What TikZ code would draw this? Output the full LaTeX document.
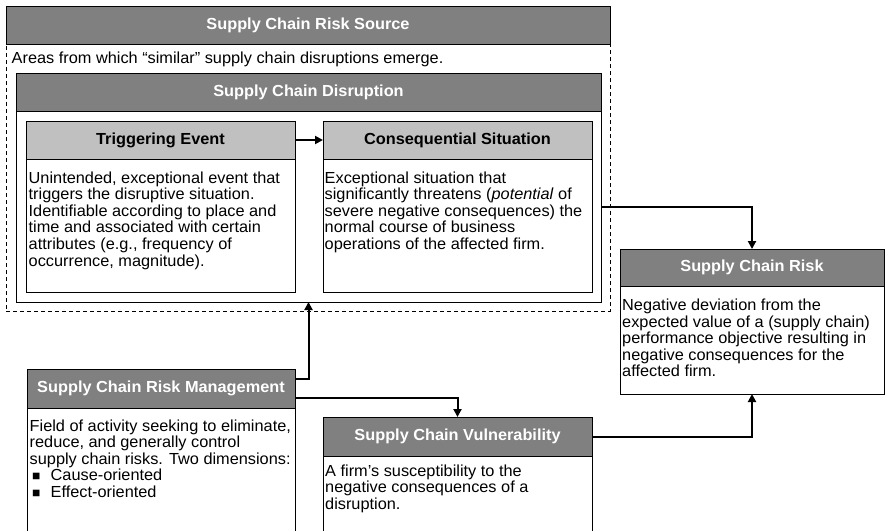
\documentclass[tikz,border=0pt]{standalone}
\usepackage{fontspec}
\setmainfont{Liberation Sans}[FakeStretch=1.02]
\usetikzlibrary{arrows.meta}
\definecolor{hdgray}{RGB}{128,128,128}
\definecolor{hlgray}{RGB}{192,192,192}
\newcommand\bfnt{\fontsize{16pt}{16.6pt}\selectfont}
\newcommand\bodytext[1]{\parbox[t]{560pt}{\raggedright\bfnt #1}}
\newcommand\bul{\hspace*{2.5pt}\makebox[18.5pt][l]{\fontsize{13.5pt}{13.5pt}\selectfont ■}}
\begin{document}
\begin{tikzpicture}[x=1pt,y=-1pt,
  box/.style={draw=black, line width=0.9pt, anchor=north west, inner sep=0pt, outer sep=0pt},
  hdark/.style={box, fill=hdgray, text=white, font=\bfnt\bfseries},
  hlight/.style={box, fill=hlgray, text=black, font=\bfnt\bfseries},
  bodybox/.style={box, fill=white},
  dashbox/.style={box, dashed, dash pattern=on 4pt off 3pt, fill=white},
  txt/.style={anchor=base west, inner sep=0pt},
  arr/.style={line width=2pt, -{Triangle[length=8pt,width=8pt]}}]
\useasboundingbox (0,0) rectangle (885,530);
\clip (0,0) rectangle (885,530);
\fill[white] (0,0) rectangle (885,530);

% Supply Chain Risk Source
\node[dashbox, minimum width=604pt, minimum height=267pt] (srcb) at (6,44) {};
\node[hdark, minimum width=604pt, minimum height=38pt] (srch) at (6,6) {Supply Chain Risk Source};
\node[txt] (srct) at (11.5,63.5) {\bodytext{Areas from which “similar” supply chain disruptions emerge.}};

% Supply Chain Disruption
\node[bodybox, minimum width=585pt, minimum height=191pt] (disrb) at (16,111) {};
\node[hdark, minimum width=585pt, minimum height=38pt] (disrh) at (16,73) {Supply Chain Disruption};

% Triggering Event
\node[bodybox, minimum width=269pt, minimum height=133pt] (trigb) at (26,159) {};
\node[hlight, minimum width=269pt, minimum height=38pt] (trigh) at (26,121) {Triggering Event};
\node[txt] (trigt) at (28.5,183) {\bodytext{Unintended, exceptional event that\\
triggers the disruptive situation.\\
Identifiable according to place and\\
time and associated with certain\\
attributes (e.g., frequency of\\
occurrence, magnitude).}};

% Consequential Situation
\node[bodybox, minimum width=269pt, minimum height=133pt] (consb) at (323,159) {};
\node[hlight, minimum width=269pt, minimum height=38pt] (consh) at (323,121) {Consequential Situation};
\node[txt] (const) at (324.5,183) {\bodytext{Exceptional situation that\\
significantly threatens (\textit{potential} of\\
severe negative consequences) the\\
normal course of business\\
operations of the affected firm.}};

% Supply Chain Risk
\node[bodybox, minimum width=264pt, minimum height=108pt] (riskb) at (620,286) {};
\node[hdark, minimum width=264pt, minimum height=37pt] (riskh) at (620,249) {Supply Chain Risk};
\node[txt] (riskt) at (622,310.5) {\bodytext{Negative deviation from the\\
expected value of a (supply chain)\\
performance objective resulting in\\
negative consequences for the\\
affected firm.}};

% Supply Chain Risk Management
\node[bodybox, minimum width=268pt, minimum height=140pt] (scrmb) at (27,408) {};
\node[hdark, minimum width=268pt, minimum height=39pt] (scrmh) at (27,369) {Supply Chain Risk Management};
\node[txt] (scrmt) at (29.5,431) {\bodytext{Field of activity seeking to eliminate,\\
reduce, and generally control\\
supply chain risks. Two dimensions:\\
\bul Cause-oriented\\
\bul Effect-oriented}};

% Supply Chain Vulnerability
\node[bodybox, minimum width=269pt, minimum height=90pt] (vulb) at (323,456) {};
\node[hdark, minimum width=269pt, minimum height=39pt] (vulh) at (323,417) {Supply Chain Vulnerability};
\node[txt] (vult) at (325,476) {\bodytext{A firm’s susceptibility to the\\
negative consequences of a\\
disruption.}};

% Connectors
\draw[arr] (trigh.east) -- (consh.west);
\draw[arr] (disrb.east) -| (riskh.north);
\draw[arr] ([yshift=10pt]scrmh.east) -| (disrb.south);
\draw[arr] ([yshift=-9pt]scrmh.east) -| (vulh.north);
\draw[arr] (vulh.east) -| (riskb.south);
\end{tikzpicture}
\end{document}
